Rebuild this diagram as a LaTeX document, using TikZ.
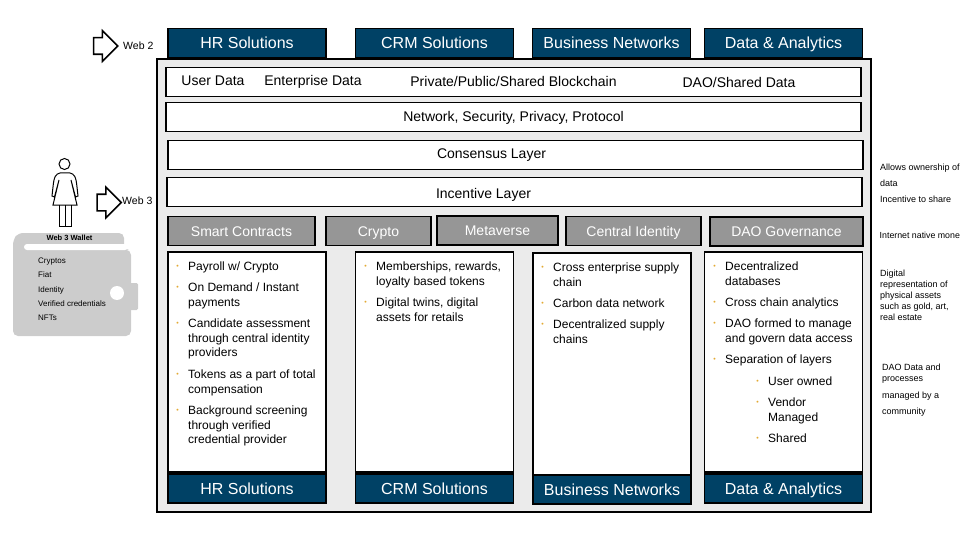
\documentclass[tikz,border=0pt]{standalone}
\usepackage{fontspec}
\setmainfont{Liberation Sans}
\usetikzlibrary{shapes.arrows}
\definecolor{navy}{HTML}{004165}
\definecolor{midgray}{HTML}{969696}
\definecolor{panel}{HTML}{EBEBEB}
\definecolor{walletgray}{HTML}{CCCCCC}
\definecolor{dotcol}{HTML}{E3AA33}
\tikzset{
  panelbox/.style={draw=black,line width=1.6pt,fill=panel},
  solution/.style={draw=black,line width=1.5pt,fill=navy,text=white,font=\fontsize{16}{18}\selectfont,minimum width=158pt,minimum height=29pt,inner sep=0pt,text height=11.5pt,text depth=0pt},
  layerbox/.style={draw=black,line width=1.6pt,fill=white,minimum width=695pt,minimum height=29pt,inner sep=0pt},
  feature/.style={draw=black,line width=1.5pt,fill=midgray,text=white,font=\fontsize{14}{16}\selectfont,minimum height=29pt,inner sep=0pt,text height=10pt,text depth=0pt},
  card/.style={draw=black,line width=1.5pt,fill=white,minimum width=158pt,minimum height=220pt,inner sep=0pt},
  item/.style={anchor=north west,inner sep=0pt,align=left,font=\fontsize{12}{14.5}\selectfont,label={[dotlabel]north west:\textbullet}},
  dotlabel/.style={anchor=north east,xshift=-9pt,yshift=-3pt,inner sep=0pt,text=dotcol,font=\fontsize{7}{14}\selectfont},
  plain/.style={inner sep=0pt,font=\fontsize{14}{16}\selectfont,text height=10pt,text depth=0pt},
  note/.style={anchor=west,inner sep=0pt,font=\fontsize{9}{11}\selectfont,text height=6.5pt,text depth=0pt},
  notelines/.style={anchor=west,inner sep=0pt,align=left,font=\fontsize{9}{11}\selectfont},
  walletnote/.style={anchor=west,inner sep=0pt,font=\fontsize{8}{10}\selectfont,text height=5.8pt,text depth=0pt},
  weblabel/.style={anchor=west,inner sep=0pt,font=\fontsize{10.5}{12}\selectfont,text height=7.5pt,text depth=0pt},
  webarrow/.style={single arrow,draw=black,line width=1.6pt,fill=white,minimum height=24pt,text height=15pt,text depth=0pt,text width=6pt,single arrow head extend=7pt,inner sep=0pt}
}
\begin{document}
\begin{tikzpicture}[x=1pt,y=-1pt]
  \useasboundingbox (0,0) rectangle (960,540);
  \draw[panelbox] (157,59) rectangle (871,512);

  % top row
  \node[solution]               (hrtop)   at (247,43)                    {HR Solutions};
  \node[solution]               (crmtop)  [right of=hrtop,node distance=187.5pt]  {CRM Solutions};
  \node[solution]               (bustop)  [right of=crmtop,node distance=177pt]   {Business Networks};
  \node[solution]               (datatop) [right of=bustop,node distance=172pt]   {Data \& Analytics};

  % layers
  \node[layerbox]               (datalayer)  at (513.5,82)   {};
  \node[layerbox]               (netlayer)   at (513.5,117)  {};
  \node[layerbox]               (conslayer)  at (515.5,155)  {};
  \node[layerbox]               (inclayer)   at (514.5,192)  {};
  \node[plain]                  (userdata)   at (213,81)     {User Data};
  \node[plain]                  (entdata)    at (313,81)     {Enterprise Data};
  \node[plain]                  (chaindata)  at (513.5,82)   {Private/Public/Shared Blockchain};
  \node[plain]                  (daodata)    at (739,83)     {DAO/Shared Data};
  \node[plain]                  (nettext)    at (513.5,117)  {Network, Security, Privacy, Protocol};
  \node[plain]                  (constext)   at (491.5,153.5) {Consensus Layer};
  \node[plain]                  (inctext)    at (483.5,193)  {Incentive Layer};

  % feature row
  \node[feature,minimum width=147pt] (smart) at (241.5,231)  {Smart Contracts};
  \node[feature,minimum width=105pt] (crypto) at (378.5,231) {Crypto};
  \node[feature,minimum width=121pt] (meta)  at (497.5,230.5)  {Metaverse};
  \node[feature,minimum width=135pt] (cid)   at (633.5,231)  {Central Identity};
  \node[feature,minimum width=153pt] (dao)   at (786.5,231.5)  {DAO Governance};

  % cards
  \node[card]                   (hrcard)   at (247,362)    {};
  \node[card]                   (crmcard)  [right of=hrcard,node distance=187.5pt]  {};
  \node[card,minimum height=222pt] (buscard) at (612,364)  {};
  \node[card]                   (datacard) at (783.5,362)  {};

  % bottom row
  \node[solution]               (hrbot)   at (247,488.5)   {HR Solutions};
  \node[solution]               (crmbot)  [right of=hrbot,node distance=187.5pt]  {CRM Solutions};
  \node[solution]               (busbot)  at (612,489.5)   {Business Networks};
  \node[solution]               (databot) at (783.5,488.5) {Data \& Analytics};

  % hr items
  \node[item] (hr1) at (188,262) {Payroll w/ Crypto};
  \node[item] (hr2) at (188,283) {On Demand / Instant\\payments};
  \node[item] (hr3) at (188,319) {Candidate assessment\\through central identity\\providers};
  \node[item] (hr4) at (188,370) {Tokens as a part of total\\compensation};
  \node[item] (hr5) at (188,406) {Background screening\\through verified\\credential provider};

  % crm items
  \node[item] (crm1) at (376,262) {Memberships, rewards,\\loyalty based tokens};
  \node[item] (crm2) at (376,298) {Digital twins, digital\\assets for retails};

  % business items
  \node[item] (bus1) at (553,263) {Cross enterprise supply\\chain};
  \node[item] (bus2) at (553,299) {Carbon data network};
  \node[item] (bus3) at (553,320) {Decentralized supply\\chains};

  % data items
  \node[item] (data1) at (725,262) {Decentralized\\databases};
  \node[item] (data2) at (725,298) {Cross chain analytics};
  \node[item] (data3) at (725,319) {DAO formed to manage\\and govern data access};
  \node[item] (data4) at (725,355) {Separation of layers};
  \node[item] (data5) at (768,377) {User owned};
  \node[item] (data6) at (768,398) {Vendor\\Managed};
  \node[item] (data7) at (768,434) {Shared};

  % side notes
  \node[note]      (note1) at (880,167) {Allows ownership of};
  \node[note]      (note2) at (880,183) {data};
  \node[note]      (note3) at (880,199) {Incentive to share};
  \node[note,font=\fontsize{8.8}{11}\selectfont] (note4) at (879.5,235) {Internet native mone};
  \node[notelines] (note5) at (880,295) {Digital\\representation of\\physical assets\\such as gold, art,\\real estate};
  \node[notelines] (note6) at (882,373.5) {DAO Data and\\processes};
  \node[note]      (note7) at (882,395) {managed by a};
  \node[note]      (note8) at (882,411) {community};

  % web arrows
  \node[webarrow] (web2arrow) at (101.5,46)  {};
  \node[webarrow] (web3arrow) at (105,202.5) {};
  \node[weblabel] (web2) at (123,46)  {Web 2};
  \node[weblabel] (web3) at (122,201) {Web 3};

  % person
  \draw[line width=1pt,fill=white] (64.5,164) circle (5.5);
  \draw[line width=1pt] (60,173) -- (70,173) .. controls (74,174) and (76,176) .. (77,187)
        -- (78,196) -- (75.5,197) -- (71,180) -- (77,205) -- (53,205) -- (59,180) -- (54.5,197) -- (52,196)
        -- (53,187) .. controls (54,176) and (56,174) .. (60,173) -- cycle;
  \draw[line width=1pt] (59,205) -- (59,226) -- (71,226) -- (71,205) (65,205) -- (65,226);

  % wallet
  \fill[walletgray,rounded corners=5pt] (13,250) -- (13,240) -- (18,233) -- (124,233) -- (124,250) -- (131,250) -- (131,336) -- (13,336) -- cycle;
  \fill[walletgray,rounded corners=1.5pt] (128,283) rectangle (138,310);
  \fill[white,rounded corners=3pt] (24,244) rectangle (128,250);
  \fill[white] (117,293) circle (7);
  \node[inner sep=0pt,font=\fontsize{7.5}{9}\selectfont\bfseries,text height=5.4pt,text depth=0pt] (wallettitle) at (69.5,238) {Web 3 Wallet};
  \node[walletnote] (wallet1) at (38,260.5) {Cryptos};
  \node[walletnote] (wallet2) at (38,275) {Fiat};
  \node[walletnote] (wallet3) at (38,290) {Identity};
  \node[walletnote] (wallet4) at (38,304) {Verified credentials};
  \node[walletnote] (wallet5) at (38,318) {NFTs};
\end{tikzpicture}
\end{document}
